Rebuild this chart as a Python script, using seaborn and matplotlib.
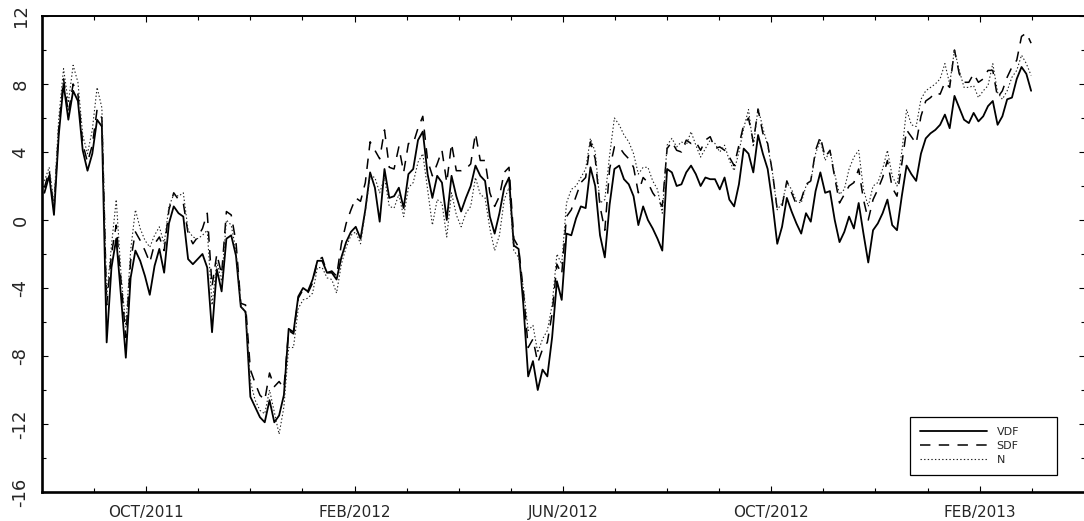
import numpy as np
import pandas as pd
import matplotlib
matplotlib.use("Agg")
import matplotlib.pyplot as plt
import seaborn as sns
from matplotlib.ticker import FixedLocator, MultipleLocator, FuncFormatter

# Daily index values, one observation every second trading day (Aug 2011 - Feb 2013)
vdf = [
    1.6, 2.6, 0.3, 5.0, 8.0, 5.9, 7.6, 7.0, 4.1, 2.9, 3.9, 5.9, 5.5,
    -7.2, -2.8, -1.1, -4.5, -8.1, -3.4, -1.8, -2.4, -3.3, -4.4, -2.7, -1.7, -3.1, -0.2, 0.8, 0.4, 0.2, -2.3, -2.6, -2.3, -2.0, -2.8,
    -6.6, -2.9, -4.2, -1.1, -0.9, -2.1, -5.1, -5.4, -10.4, -11.0, -11.6, -11.9, -10.6, -11.9, -11.5, -10.3, -6.4, -6.6, -4.5, -4.0, -4.2, -3.5, -2.4, -2.4, -3.1, -3.1, -3.5, -2.2, -1.3, -0.7, -0.4, -1.1,
    0.6, 2.8, 1.9, -0.1, 3.0, 1.3, 1.4, 1.9, 0.7, 2.7, 3.0, 4.7, 5.2, 2.7, 1.3, 2.6, 2.2, 0.0, 2.6, 1.4, 0.5, 1.3, 2.0, 3.2, 2.6, 2.3, 0.2, -0.8, 0.4, 1.9, 2.5, -1.5, -1.7,
    -5.0, -9.2, -8.3, -10.0, -8.8, -9.2, -6.9, -3.6, -4.7, -0.8, -0.9, 0.1, 0.8, 0.7, 3.1,
    2.0, -0.9, -2.2, 0.9, 3.0, 3.2, 2.4, 2.1, 1.4, -0.3, 0.8, 0.0, -0.5, -1.1, -1.8, 3.0, 2.8, 2.0, 2.1, 2.8, 3.2, 2.7, 2.0,
    2.5, 2.4, 2.4, 1.8, 2.5, 1.2, 0.8, 2.1, 4.2, 3.9, 2.8, 5.0, 3.9, 3.0, 1.0, -1.4, -0.4, 1.3, 0.5, -0.2, -0.8, 0.4, -0.1, 1.7, 2.8, 1.6, 1.7, 0.0, -1.3, -0.7, 0.2, -0.5, 1.0, -0.8, -2.5,
    -0.6, -0.2, 0.4, 1.2, -0.3, -0.6, 1.4, 3.2, 2.7, 2.3, 3.9, 4.8, 5.1, 5.3, 5.6, 6.2, 5.4, 7.3, 6.6, 5.9, 5.7, 6.3, 5.8, 6.1, 6.7, 7.0, 5.6, 6.1, 7.1, 7.2, 8.3, 9.0, 8.6, 7.6,
]

sdf = [
    1.9, 2.9, 0.6, 5.4, 8.3, 6.3, 8.0, 7.4, 4.5, 3.4, 4.4, 6.5, 6.0,
    -5.0, -2.0, -0.3, -3.6, -6.9, -2.4, -0.7, -1.2, -1.8, -2.5, -1.4, -1.0, -1.8, 0.6, 1.6, 1.2, 1.0, -0.8, -1.4, -1.0, -0.5, 0.4,
    -3.9, -2.0, -3.2, 0.5, 0.3, -1.3, -4.9, -5.0, -8.8, -9.6, -10.3, -10.6, -9.0, -9.8, -9.5, -9.9, -6.5, -6.7, -4.6, -4.1, -4.3, -3.7, -2.4, -2.2, -3.1, -3.0, -3.3, -1.4, -0.2, 0.6, 1.3, 1.1,
    2.2, 4.6, 4.1, 3.6, 5.3, 3.1, 3.0, 4.3, 2.8, 4.5, 4.5, 5.4, 6.1, 3.5, 2.6, 3.3, 4.1, 2.2, 4.5, 2.9, 2.9, 3.0, 3.3, 5.1, 3.5, 3.5, 1.6, 0.8, 1.4, 2.8, 3.1, -1.1, -1.6,
    -4.2, -7.5, -7.0, -8.4, -7.6, -7.2, -5.5, -2.6, -3.2, 0.2, 0.6, 1.4, 2.2, 2.5, 4.6,
    3.6, 0.8, -0.6, 3.0, 4.3, 4.3, 3.9, 3.6, 3.1, 1.6, 2.5, 2.2, 1.6, 1.2, 0.8, 4.2, 4.6, 4.1, 4.0, 4.7, 4.5, 4.6, 4.1,
    4.7, 4.9, 4.2, 4.3, 4.1, 3.7, 3.2, 4.4, 5.6, 6.0, 4.6, 6.5, 5.1, 4.5, 2.8, 0.6, 0.8, 2.3, 1.6, 0.9, 1.2, 2.1, 2.3, 4.1, 4.9, 3.7, 4.1, 2.5, 1.0, 1.5, 2.0, 2.2, 3.0, 1.2, 0.0,
    1.2, 1.8, 2.5, 3.5, 1.9, 1.4, 3.3, 5.3, 4.9, 4.5, 6.1, 7.0, 7.2, 7.5, 7.4, 8.1, 7.8, 10.0, 8.6, 8.1, 8.1, 8.6, 8.1, 8.3, 8.8, 8.8, 7.2, 7.6, 8.4, 9.0, 9.4, 10.8, 11.0, 10.4,
]

n_series = [
    2.3, 3.1, 1.0, 6.0, 8.9, 6.9, 9.1, 8.1, 5.0, 3.9, 5.3, 7.8, 6.6,
    -4.5, -1.5, 1.2, -3.2, -6.3, -1.8, 0.6, -0.5, -1.2, -1.6, -0.9, -0.4, -1.4, 0.8, 1.5, 1.4, 1.6, -0.6, -1.0, -1.1, -0.9, -0.6,
    -5.0, -2.5, -3.6, 0.0, -0.3, -1.8, -5.0, -5.5, -9.5, -10.6, -11.2, -11.4, -10.0, -11.3, -12.6, -11.0, -7.5, -7.5, -5.2, -4.7, -4.6, -4.3, -2.8, -2.8, -3.4, -3.5, -4.3, -2.6, -1.6, -0.9, -0.7, -1.4,
    0.5, 2.6, 2.5, 1.6, 2.5, 0.8, 0.7, 1.5, 0.2, 1.9, 2.2, 3.4, 3.9, 1.8, -0.3, 1.2, 1.0, -1.0, 1.6, 0.3, -0.4, 0.4, 0.8, 2.5, 1.5, 1.3, -0.5, -1.8, -0.9, 1.2, 1.9, -1.8, -2.2,
    -4.0, -6.5, -6.2, -7.8, -7.0, -6.5, -5.0, -2.0, -2.6, 1.0, 1.8, 2.0, 2.5, 3.0, 4.8,
    4.0, 1.0, 1.2, 3.8, 6.0, 5.6, 5.0, 4.6, 3.9, 2.7, 3.1, 3.1, 2.3, 1.8, 0.4, 4.4, 4.8, 4.3, 4.6, 4.4, 5.2, 4.4, 3.7,
    4.2, 4.7, 4.5, 4.0, 4.4, 3.5, 2.9, 4.0, 5.4, 6.5, 4.3, 6.6, 5.4, 4.4, 2.8, 0.6, 1.0, 2.2, 1.8, 1.1, 1.0, 2.0, 2.3, 3.9, 4.7, 3.5, 4.1, 2.7, 1.5, 1.8, 3.0, 3.7, 4.1, 1.8, 0.8,
    2.0, 2.2, 3.0, 4.1, 2.6, 2.0, 4.0, 6.5, 5.6, 5.5, 7.1, 7.6, 7.8, 8.0, 8.3, 9.2, 8.0, 10.0, 8.8, 7.8, 7.8, 7.9, 7.2, 7.6, 7.9, 9.2, 7.5, 7.1, 7.6, 8.4, 8.8, 9.7, 9.2, 8.5,
]

series_names = ["VDF", "SDF", "N"]
tick_labels = ["OCT/2011", "FEB/2012", "JUN/2012", "OCT/2012", "FEB/2013"]
tick_months = [2, 6, 10, 14, 18]          # months counted from AUG/2011

DAYS_PER_MONTH = 21.75                     # trading days per month on the time axis
day = 1 + 2 * np.arange(len(vdf))          # every second trading day

df = pd.DataFrame({"day": np.tile(day, 3),
                   "value": np.concatenate([vdf, sdf, n_series]),
                   "series": np.repeat(series_names, len(vdf))})

sns.set_style("ticks")
plt.rcParams["font.family"] = ["DejaVu Sans"]
plt.rcParams["axes.unicode_minus"] = False
plt.rcParams["lines.scale_dashes"] = False

fig = plt.figure(figsize=(10.84, 5.21), dpi=100)
ax = fig.add_axes([42 / 1084, 29 / 521, 1043 / 1084, 476 / 521])

styles = {
    "VDF": dict(color="black", linewidth=1.3, dashes=(None, None)),
    "SDF": dict(color="black", linewidth=1.1, dashes=(7.5, 6.0)),
    "N": dict(color="#222222", linewidth=0.8, dashes=(1.0, 1.6)),
}
for name in series_names:
    st = styles[name]
    sub = df[df["series"] == name]
    sns.lineplot(data=sub, x="day", y="value", ax=ax, color=st["color"],
                 linewidth=st["linewidth"], label=name, estimator=None)
    line = ax.lines[-1]
    if st["dashes"][0] is not None:
        line.set_dashes(st["dashes"])

ax.set_xlim(0, 20 * DAYS_PER_MONTH + 0.5)
ax.set_ylim(-16, 12)
ax.set_xlabel("")
ax.set_ylabel("")

ax.xaxis.set_major_locator(FixedLocator([m * DAYS_PER_MONTH for m in tick_months]))
ax.xaxis.set_minor_locator(FixedLocator([m * DAYS_PER_MONTH for m in range(1, 20)]))
ax.set_xticklabels(tick_labels)
ax.yaxis.set_major_locator(MultipleLocator(4))
ax.yaxis.set_minor_locator(MultipleLocator(2))
ax.yaxis.set_major_formatter(FuncFormatter(lambda v, p: f"{int(round(v))}"))

ax.tick_params(which="both", direction="in", top=True, right=True, width=0.8, color="black")
ax.tick_params(which="major", length=4.0)
ax.tick_params(which="minor", length=3.0)
ax.tick_params(axis="x", which="major", pad=9, labelsize=11)
ax.tick_params(axis="y", which="major", pad=9, labelsize=13)
for lab in ax.get_yticklabels():
    lab.set_rotation(90)
    lab.set_va("center")
    lab.set_family(["Liberation Sans Narrow", "DejaVu Sans"])
for lab in ax.get_xticklabels():
    lab.set_family(["DejaVu Sans"])

for side, lw in {"left": 1.9, "bottom": 1.9, "top": 1.4}.items():
    ax.spines[side].set_visible(True)
    ax.spines[side].set_linewidth(lw)
    ax.spines[side].set_color("black")
# the right edge carries tick marks only, without a drawn spine line
ax.spines["right"].set_visible(False)

leg = ax.legend(loc="lower left", bbox_to_anchor=(0.8322, 0.0357, 0.141, 0.1408),
                mode="expand", fontsize=8, handlelength=6.0, handletextpad=0.9,
                labelspacing=0.35, borderpad=0.9, frameon=True, fancybox=False,
                framealpha=1, edgecolor="black", borderaxespad=0)
leg.get_frame().set_linewidth(0.9)

fig.savefig("out.png", dpi=100)
